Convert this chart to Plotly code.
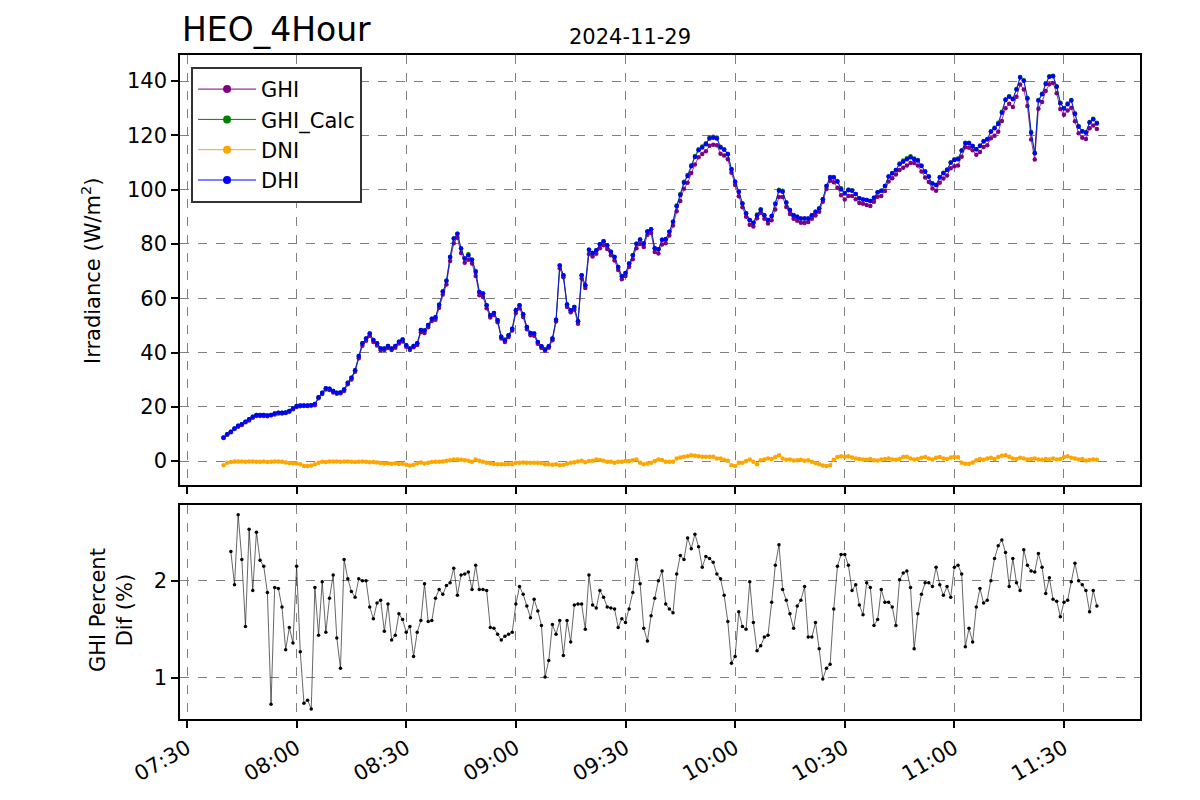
import pandas as pd
import plotly.graph_objects as go
from plotly.subplots import make_subplots

# ---- data (1-minute samples, 2024-11-29 07:40 .. 11:39) ----
times = pd.date_range("2024-11-29 07:40", "2024-11-29 11:39", freq="1min")

dhi = [8.7, 9.9, 10.8, 12.0, 13.0, 13.6, 14.5, 15.4, 16.3, 17.0,
       17.0, 17.0, 16.8, 17.0, 17.5, 17.8, 17.8, 17.9, 18.5, 19.4,
       20.3, 20.5, 20.5, 20.5, 20.6, 21.0, 23.5, 25.2, 26.8, 26.7,
       25.8, 25.2, 25.3, 26.4, 28.9, 30.7, 33.5, 38.7, 43.4, 45.2,
       47.0, 44.6, 43.4, 41.5, 41.5, 42.4, 41.5, 42.4, 44.0, 44.8,
       42.7, 41.5, 42.4, 43.4, 48.3, 48.1, 50.1, 52.4, 53.0, 57.6,
       62.5, 66.4, 75.2, 82.0, 83.8, 78.3, 74.6, 75.8, 74.2, 69.7,
       62.3, 61.7, 57.4, 53.7, 54.6, 51.9, 45.8, 44.5, 46.4, 48.8,
       55.6, 57.4, 54.1, 49.4, 47.2, 47.0, 43.9, 42.3, 41.1, 42.3,
       45.2, 52.1, 72.1, 68.5, 57.7, 55.6, 56.8, 51.5, 68.5, 64.8,
       77.9, 76.7, 77.7, 79.9, 81.0, 79.5, 77.1, 75.2, 71.5, 68.1,
       69.3, 72.8, 75.8, 80.1, 81.6, 80.1, 84.6, 85.4, 78.4, 78.0,
       81.5, 81.7, 84.5, 88.2, 93.9, 98.0, 102.5, 105.0, 108.6, 112.0,
       114.5, 115.5, 116.7, 118.8, 119.1, 118.8, 115.5, 114.7, 113.0, 107.4,
       102.9, 99.2, 94.9, 91.3, 88.8, 87.8, 90.6, 92.7, 90.6, 88.8,
       90.3, 94.7, 99.6, 99.2, 95.3, 92.5, 90.6, 90.0, 89.4, 89.4,
       89.4, 90.6, 91.9, 93.1, 96.5, 101.3, 104.5, 104.5, 102.9, 100.1,
       98.6, 99.8, 99.6, 98.4, 96.8, 96.4, 96.2, 95.8, 97.0, 99.0,
       99.6, 101.3, 104.8, 106.0, 107.2, 109.4, 110.3, 111.2, 111.9, 111.2,
       110.7, 108.7, 106.6, 104.8, 102.3, 101.7, 104.5, 106.0, 107.2, 109.9,
       110.9, 111.2, 114.4, 117.1, 117.1, 116.1, 114.9, 116.1, 117.7, 118.5,
       121.3, 122.6, 124.2, 128.3, 133.0, 134.2, 133.3, 136.9, 141.3, 140.1,
       133.6, 121.0, 113.4, 132.8, 135.1, 138.9, 141.6, 141.8, 137.9, 131.8,
       129.9, 131.5, 132.8, 127.9, 123.2, 121.4, 121.0, 124.7, 125.9, 124.4]

ghi_calc = [8.7, 9.9, 10.8, 12.0, 13.0, 13.6, 14.5, 15.4, 16.3, 17.0,
            17.0, 17.0, 16.8, 17.0, 17.5, 17.8, 17.8, 17.9, 18.5, 19.4,
            20.3, 20.5, 20.5, 20.5, 20.6, 21.0, 23.5, 25.2, 26.8, 26.7,
            25.8, 25.2, 25.3, 26.4, 28.9, 30.7, 33.5, 38.7, 43.4, 45.2,
            47.0, 44.6, 43.4, 41.5, 41.5, 42.4, 41.5, 42.4, 44.0, 44.8,
            42.7, 41.5, 42.4, 43.4, 48.3, 48.1, 50.1, 52.4, 53.0, 57.6,
            62.5, 66.4, 75.2, 82.0, 83.8, 78.3, 74.6, 76.2, 74.2, 70.0,
            62.3, 61.7, 57.4, 53.7, 54.6, 51.9, 45.8, 44.8, 46.4, 48.8,
            55.6, 57.4, 54.1, 49.4, 47.2, 47.0, 43.9, 42.3, 41.1, 42.3,
            45.2, 52.1, 72.1, 68.5, 57.7, 55.6, 56.8, 51.5, 68.5, 64.8,
            77.9, 76.7, 77.7, 79.9, 81.0, 79.5, 77.1, 75.2, 71.5, 68.1,
            69.3, 72.8, 75.8, 80.1, 81.6, 80.3, 84.6, 85.4, 78.4, 78.0,
            81.5, 81.7, 84.5, 88.2, 94.2, 98.4, 102.9, 105.4, 109.0, 112.4,
            114.9, 115.9, 117.1, 119.2, 119.5, 119.2, 115.8, 114.9, 113.2, 107.6,
            102.9, 99.2, 94.9, 91.3, 88.8, 87.8, 90.8, 92.7, 90.6, 88.8,
            90.3, 94.9, 100.0, 99.6, 95.3, 92.5, 90.6, 90.0, 89.4, 89.4,
            89.4, 90.6, 91.9, 93.1, 96.5, 101.3, 104.7, 104.7, 103.2, 100.5,
            98.9, 100.1, 99.8, 98.4, 96.8, 96.4, 96.2, 95.8, 97.0, 99.0,
            99.6, 101.3, 104.8, 106.0, 107.2, 109.6, 110.7, 111.6, 112.3, 111.5,
            110.9, 108.9, 106.8, 104.8, 102.3, 101.7, 104.7, 106.2, 107.4, 110.1,
            111.2, 111.5, 114.4, 117.3, 117.3, 116.1, 114.9, 116.3, 117.9, 118.7,
            121.5, 122.8, 124.6, 128.7, 133.3, 134.4, 133.5, 137.1, 141.5, 140.3,
            133.8, 121.2, 113.6, 133.0, 135.3, 139.1, 141.8, 142.0, 138.1, 132.0,
            130.1, 131.7, 133.0, 128.1, 123.4, 121.6, 121.2, 124.9, 126.1, 124.6]

ghi = [8.5, 9.7, 10.6, 11.8, 12.7, 13.3, 14.3, 15.0, 16.0, 16.6,
       16.6, 16.6, 16.5, 16.9, 17.2, 17.5, 17.5, 17.7, 18.2, 19.1,
       19.9, 20.2, 20.3, 20.3, 20.5, 20.6, 23.2, 24.7, 26.4, 26.2,
       25.3, 24.8, 25.0, 25.8, 28.3, 30.1, 32.9, 37.9, 42.5, 44.3,
       46.2, 43.9, 42.6, 40.8, 40.9, 41.7, 40.9, 41.8, 43.3, 44.1,
       42.1, 40.9, 41.9, 42.8, 47.5, 47.2, 49.3, 51.6, 52.1, 56.5,
       61.4, 65.1, 73.7, 80.3, 82.3, 76.7, 73.1, 74.2, 72.8, 68.2,
       61.1, 60.5, 56.3, 52.9, 53.8, 51.2, 45.2, 43.9, 45.7, 48.1,
       54.6, 56.3, 53.1, 48.6, 46.4, 46.2, 43.2, 41.7, 40.7, 41.8,
       44.5, 51.4, 71.0, 67.7, 56.8, 54.8, 55.8, 50.6, 67.3, 63.8,
       76.3, 75.4, 76.4, 78.4, 79.5, 78.1, 75.8, 73.9, 70.4, 67.0,
       68.2, 71.6, 74.4, 78.4, 80.0, 78.9, 83.4, 84.0, 77.0, 76.5,
       79.8, 80.3, 83.1, 86.8, 92.0, 95.8, 100.3, 102.5, 106.1, 109.3,
       111.9, 113.1, 114.1, 116.2, 116.5, 116.4, 113.2, 112.6, 111.2, 106.2,
       101.7, 97.6, 93.5, 90.0, 87.1, 86.4, 89.5, 91.5, 89.3, 87.5,
       88.7, 92.7, 97.3, 97.3, 93.6, 91.0, 89.3, 88.5, 87.8, 87.7,
       88.1, 89.3, 90.5, 91.9, 95.5, 100.2, 103.3, 102.7, 100.7, 97.9,
       96.4, 97.7, 97.7, 96.5, 95.1, 94.8, 94.3, 94.0, 95.5, 97.4,
       97.7, 99.5, 103.0, 104.2, 105.6, 107.2, 108.1, 108.9, 109.8, 109.8,
       108.9, 106.7, 104.5, 102.8, 100.4, 99.6, 102.5, 104.1, 105.2, 107.9,
       108.6, 108.9, 112.1, 115.6, 115.4, 114.5, 112.9, 113.9, 115.7, 116.4,
       118.9, 119.9, 121.3, 125.3, 130.0, 131.6, 130.4, 134.2, 138.7, 136.9,
       130.8, 118.5, 111.1, 129.8, 132.3, 136.3, 138.8, 139.3, 135.5, 129.7,
       127.6, 129.2, 130.2, 125.2, 120.8, 119.1, 118.7, 122.6, 123.6, 122.3]

dni = [-1.5, -0.6, -0.3, -0.1, -0.1, -0.1, -0.2, -0.1, -0.1, -0.2,
       -0.2, -0.1, -0.3, -0.2, -0.1, -0.1, -0.2, -0.5, -0.7, -0.8,
       -0.9, -1.2, -1.8, -1.8, -1.6, -1.2, -0.6, -0.2, -0.3, -0.1,
       -0.1, -0.1, -0.2, -0.1, -0.1, -0.2, -0.3, -0.2, -0.1, -0.2,
       -0.4, -0.3, -0.5, -0.7, -0.9, -0.8, -1.0, -0.8, -1.1, -1.0,
       -1.3, -1.6, -1.3, -0.8, -0.5, -0.9, -0.6, -0.3, -0.2, -0.2,
       -0.1, 0.1, 0.3, 0.6, 0.6, 0.5, 0.3, 0.1, -0.2, 0.6,
       0.1, -0.2, -0.6, -0.8, -1.1, -1.2, -1.2, -1.2, -1.1, -1.2,
       -0.6, -0.6, -0.5, -0.6, -0.6, -0.6, -0.6, -0.7, -1.2, -1.2,
       -1.3, -1.2, -1.5, -1.3, -1.0, -0.6, -0.4, -0.1, 0.1, -0.4,
       0.0, 0.1, 0.6, 0.4, 0.1, -0.2, -0.2, -0.6, -0.2, -0.2,
       0.0, 0.0, 0.3, 0.6, -0.6, -1.2, -0.9, -0.6, 0.0, 0.6,
       0.4, -0.2, -0.2, -0.2, 1.0, 1.3, 1.6, 1.8, 2.2, 2.0,
       1.8, 1.6, 1.6, 1.6, 1.6, 1.0, 1.0, 0.5, 0.1, -1.5,
       -1.8, -0.6, -0.6, 0.0, 0.6, -0.2, -1.2, 0.3, 0.6, 1.0,
       0.8, 1.5, 2.2, 1.0, 0.5, 0.6, 0.2, 0.3, 0.5, 0.1,
       0.3, -0.2, -0.8, -1.2, -1.6, -1.8, -1.5, 0.5, 1.5, 1.8,
       1.6, 1.8, 1.3, 1.0, 0.8, 0.6, 0.5, 0.8, 0.3, 0.2,
       0.6, 0.8, 1.0, 0.6, 0.5, 0.8, 1.5, 1.6, 1.0, 0.6,
       0.8, 1.2, 1.5, 1.0, 0.6, 1.2, 1.5, 1.0, 0.8, 1.3,
       1.5, 1.4, -0.6, -1.0, -1.0, -0.5, 0.3, 0.8, 0.5, 1.0,
       1.2, 0.8, 1.5, 2.0, 2.2, 1.6, 1.0, 0.8, 1.2, 1.0,
       0.6, 0.8, 1.0, 0.6, 0.5, 0.8, 0.6, 1.0, 0.6, 0.8,
       1.5, 1.8, 1.2, 1.0, 0.6, 0.8, 0.2, 0.4, 0.6, 0.5]

pct_dif = [None, None, 2.30, 1.96, 2.68, 2.22, 1.53, 2.53, 1.90, 2.50,
           2.21, 2.15, 1.88, 0.73, 1.93, 1.92, 1.73, 1.29, 1.52, 1.36,
           2.15, 1.27, 0.74, 0.77, 0.68, 1.93, 1.44, 1.99, 1.47, 1.82,
           2.06, 1.41, 1.10, 2.22, 2.02, 1.89, 1.83, 2.02, 2.00, 2.00,
           1.73, 1.61, 1.77, 1.80, 1.48, 1.76, 1.39, 1.44, 1.66, 1.60,
           1.47, 1.53, 1.22, 1.47, 1.59, 1.97, 1.58, 1.59, 1.82, 1.91,
           1.86, 1.95, 1.98, 2.13, 1.85, 2.06, 2.07, 2.09, 1.91, 2.16,
           1.91, 1.91, 1.90, 1.52, 1.51, 1.45, 1.39, 1.43, 1.45, 1.47,
           1.76, 1.94, 1.86, 1.74, 1.62, 1.81, 1.69, 1.54, 1.01, 1.18,
           1.55, 1.45, 1.59, 1.23, 1.59, 1.37, 1.75, 1.76, 1.76, 1.50,
           2.06, 1.75, 1.72, 1.90, 1.83, 1.73, 1.72, 1.71, 1.52, 1.61,
           1.57, 1.71, 1.88, 2.22, 1.97, 1.51, 1.38, 1.64, 1.82, 2.00,
           2.10, 1.76, 1.71, 1.67, 2.07, 2.26, 2.22, 2.44, 2.33, 2.48,
           2.35, 2.14, 2.25, 2.23, 2.19, 2.07, 2.02, 1.85, 1.58, 1.15,
           1.22, 1.68, 1.53, 1.50, 1.99, 1.57, 1.28, 1.33, 1.42, 1.44,
           1.78, 2.16, 2.37, 1.91, 1.80, 1.66, 1.51, 1.74, 1.80, 1.94,
           1.42, 1.42, 1.57, 1.30, 0.99, 1.10, 1.14, 1.71, 2.15, 2.27,
           2.27, 2.16, 1.90, 1.96, 1.75, 1.65, 1.98, 1.93, 1.54, 1.60,
           1.91, 1.78, 1.78, 1.73, 1.54, 2.01, 2.08, 2.10, 1.93, 1.30,
           1.66, 1.86, 1.98, 1.98, 1.94, 2.14, 1.96, 1.85, 1.94, 1.83,
           2.14, 2.16, 2.07, 1.32, 1.51, 1.37, 1.73, 1.92, 1.77, 1.80,
           2.00, 2.23, 2.36, 2.42, 2.29, 1.94, 2.23, 1.98, 1.90, 2.32,
           2.16, 2.10, 2.09, 2.28, 2.14, 1.87, 2.03, 1.81, 1.79, 1.63,
           1.78, 1.80, 1.99, 2.18, 2.00, 1.96, 1.90, 1.68, 1.90, 1.74]

tick_times = pd.date_range("2024-11-29 07:30", "2024-11-29 11:30", freq="30min")
tick_text = [t.strftime("%H:%M") for t in tick_times]

series_names = ["GHI", "GHI_Calc", "DNI", "DHI"]
series_values = [ghi, ghi_calc, dni, dhi]
series_colors = ["#800080", "#008000", "#FFA500", "#0000FF"]

# ---- figure ----
fig = make_subplots(rows=2, cols=1, shared_xaxes=True)

for name, vals, color in zip(series_names, series_values, series_colors):
    fig.add_trace(go.Scatter(x=times, y=vals, mode="lines+markers", name=name,
                             legendgroup=name, showlegend=False,
                             line=dict(color=color, width=0.8),
                             marker=dict(size=4.5, color=color)), row=1, col=1)

# legend entries (larger symbols, like the reference legend)
for name, color in zip(series_names, series_colors):
    fig.add_trace(go.Scatter(x=[None], y=[None], mode="lines+markers", name=name,
                             legendgroup=name, showlegend=True,
                             line=dict(color=color, width=1),
                             marker=dict(size=8, color=color)), row=1, col=1)

fig.add_trace(go.Scatter(x=times, y=pct_dif, mode="lines+markers", showlegend=False,
                         line=dict(color="black", width=0.6),
                         marker=dict(size=3.5, color="black")), row=2, col=1)

FONT = "DejaVu Sans"
axis_common = dict(showline=True, mirror=True, linecolor="black", linewidth=1.6,
                   ticks="outside", ticklen=7, tickwidth=1.6, tickcolor="black",
                   showgrid=True, gridcolor="#808080", gridwidth=1, griddash="dash",
                   zeroline=False, tickfont=dict(family=FONT, size=21, color="black"))

xr = ["2024-11-29 07:28:05", "2024-11-29 11:50:48"]
fig.update_xaxes(**axis_common)
fig.update_xaxes(range=xr, tickvals=list(tick_times), ticktext=tick_text)
fig.update_xaxes(showticklabels=False, row=1, col=1)
fig.update_xaxes(showticklabels=True, tickangle=-30, row=2, col=1)

fig.update_yaxes(**axis_common)
fig.update_yaxes(range=[-8.8, 149.6], tickvals=[0, 20, 40, 60, 80, 100, 120, 140], row=1, col=1)
fig.update_yaxes(range=[0.577, 2.78], tickvals=[1, 2], row=2, col=1)

fig.update_layout(
    width=1200, height=800,
    margin=dict(l=180, r=60, t=55, b=81),
    plot_bgcolor="white", paper_bgcolor="white",
    font=dict(family=FONT, size=21, color="black"),
    yaxis=dict(domain=[0.3524, 1.0]),
    yaxis2=dict(domain=[0.0, 0.3223]),
    showlegend=True,
    legend=dict(x=0.0115, y=0.982, xanchor="left", yanchor="top",
                bgcolor="white", bordercolor="#333333", borderwidth=2,
                itemwidth=58, tracegroupgap=0,
                font=dict(family=FONT, size=21, color="black")),
    annotations=[
        dict(text="HEO_4Hour", xref="paper", yref="paper", x=0, y=1,
             xanchor="left", yanchor="bottom", yshift=4, showarrow=False,
             font=dict(family=FONT, size=33, color="black")),
        dict(text="2024-11-29", xref="paper", yref="paper", x=0.46875, y=1,
             xanchor="center", yanchor="bottom", yshift=4, showarrow=False,
             font=dict(family=FONT, size=21, color="black")),
        dict(text="Irradiance (W/m<sup>2</sup>)", xref="paper", yref="paper",
             x=-0.0925, y=0.675, xanchor="center", yanchor="middle",
             textangle=-90, showarrow=False,
             font=dict(family=FONT, size=21, color="black")),
        dict(text="GHI Percent<br>Dif (%)", xref="paper", yref="paper",
             x=-0.0719, y=0.164, xanchor="center", yanchor="middle",
             textangle=-90, showarrow=False,
             font=dict(family=FONT, size=21, color="black")),
    ],
)

fig.write_html("out.html")
